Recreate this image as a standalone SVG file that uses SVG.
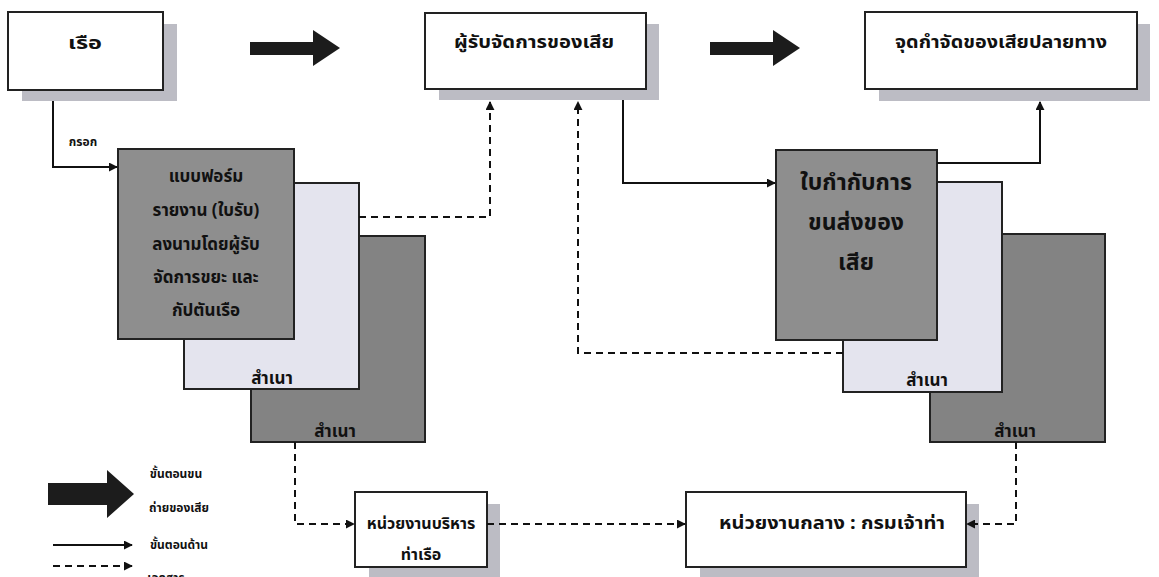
<svg xmlns="http://www.w3.org/2000/svg" width="1159" height="577" viewBox="0 0 1159 577">
<defs>
<marker id="ah" viewBox="0 0 10 10" refX="9" refY="5" markerWidth="9" markerHeight="9" markerUnits="userSpaceOnUse" orient="auto"><path d="M0,0 L10,5 L0,10 z" fill="#111"/></marker>
<style>
text{font-family:"Noto Sans Thai","Tahoma","Liberation Sans",sans-serif;font-weight:bold;fill:#111;text-anchor:middle}
.box{fill:#fff;stroke:#222;stroke-width:2}
.sh{fill:#bcbcc4}
.doc{fill:#8e8e8e;stroke:#222;stroke-width:2}
.lt{fill:#e4e4ee;stroke:#222;stroke-width:2}
.dk{fill:#838383;stroke:#222;stroke-width:2}
.c{fill:none;stroke:#111;stroke-width:2}
.d{fill:none;stroke:#111;stroke-width:2;stroke-dasharray:7,5}
.big{fill:#1c1c1c}
.t16{font-size:16px}
.t17{font-size:17px}
.t23{font-size:23px}
.t12{font-size:12px}
</style>
</defs>
<rect width="1159" height="577" fill="#fff"/>

<g id="boat">
<rect class="sh" x="22" y="24" width="155" height="77"/>
<rect class="box" x="8" y="12" width="155" height="78"/>
<text class="t17" x="85" y="49" textLength="34" lengthAdjust="spacingAndGlyphs">เรือ</text>
</g>

<g id="handler">
<rect class="sh" x="439" y="24" width="220" height="76"/>
<rect class="box" x="425" y="13" width="221" height="76"/>
<text class="t17" x="534" y="48" textLength="160" lengthAdjust="spacingAndGlyphs">ผู้รับจัดการของเสีย</text>
</g>

<g id="disposal">
<rect class="sh" x="879" y="24" width="271" height="77"/>
<rect class="box" x="865" y="12" width="272" height="77"/>
<text class="t17" x="1001" y="48" textLength="212" lengthAdjust="spacingAndGlyphs">จุดกำจัดของเสียปลายทาง</text>
</g>

<g id="form-left">
<rect class="dk" x="251" y="236" width="174" height="206"/>
<rect class="lt" x="184" y="183" width="175" height="206"/>
<rect class="doc" x="118" y="149" width="176" height="190"/>
<text class="t17" x="206" y="182">แบบฟอร์ม</text>
<text class="t17" x="206" y="216">รายงาน (ใบรับ)</text>
<text class="t17" x="206" y="250">ลงนามโดยผู้รับ</text>
<text class="t17" x="206" y="283">จัดการขยะ และ</text>
<text class="t17" x="206" y="316">กัปตันเรือ</text>
<text class="t17" x="272" y="384">สำเนา</text>
<text class="t17" x="335" y="437">สำเนา</text>
</g>

<g id="form-right">
<rect class="dk" x="930" y="234" width="175" height="208"/>
<rect class="lt" x="843" y="182" width="159" height="210"/>
<rect class="doc" x="776" y="150" width="161" height="190"/>
<text class="t23" x="856" y="190">ใบกำกับการ</text>
<text class="t23" x="856" y="230">ขนส่งของ</text>
<text class="t23" x="856" y="270">เสีย</text>
<text class="t17" x="927" y="386">สำเนา</text>
<text class="t17" x="1015" y="437">สำเนา</text>
</g>

<g id="port-admin">
<rect class="sh" x="369" y="504" width="131" height="73"/>
<rect class="box" x="355" y="492" width="132" height="75"/>
<text class="t16" x="421" y="529">หน่วยงานบริหาร</text>
<text class="t16" x="421" y="560">ท่าเรือ</text>
</g>

<g id="central">
<rect class="sh" x="700" y="504" width="279" height="73"/>
<rect class="box" x="686" y="492" width="280" height="75"/>
<text class="t17" x="832" y="529" textLength="226" lengthAdjust="spacingAndGlyphs">หน่วยงานกลาง : กรมเจ้าท่า</text>
</g>

<g id="connectors">
<path class="big" d="M250,42 H313 V30 L340,48 L313,66 V55 H250 z"/>
<path class="big" d="M710,42 H773 V30 L800,48 L773,66 V55 H710 z"/>
<path class="c" d="M53,101 V167 H117" marker-end="url(#ah)"/>
<text class="t12" x="83" y="146">กรอก</text>
<path class="d" d="M359,217 H490 V102" marker-end="url(#ah)"/>
<path class="c" d="M623,100 V183 H775" marker-end="url(#ah)"/>
<path class="d" d="M843,353 H578 V102" marker-end="url(#ah)"/>
<path class="c" d="M937,163 H1040 V102" marker-end="url(#ah)"/>
<path class="d" d="M295,442 V524 H354" marker-end="url(#ah)"/>
<path class="d" d="M487,524 H685" marker-end="url(#ah)"/>
<path class="d" d="M1016,442 V524 H967" marker-end="url(#ah)"/>
</g>

<g id="legend">
<path class="big" d="M48,483 H107 V470 L134,494 L107,518 V505 H48 z"/>
<text class="t12" x="176" y="478">ขั้นตอนขน</text>
<text class="t12" x="179" y="512">ถ่ายของเสีย</text>
<path class="c" d="M53,545 H132" marker-end="url(#ah)"/>
<text class="t12" x="179" y="549">ขั้นตอนด้าน</text>
<path class="d" d="M53,566 H132" marker-end="url(#ah)"/>
<text class="t12" x="166" y="582">เอกสาร</text>
</g>
</svg>
